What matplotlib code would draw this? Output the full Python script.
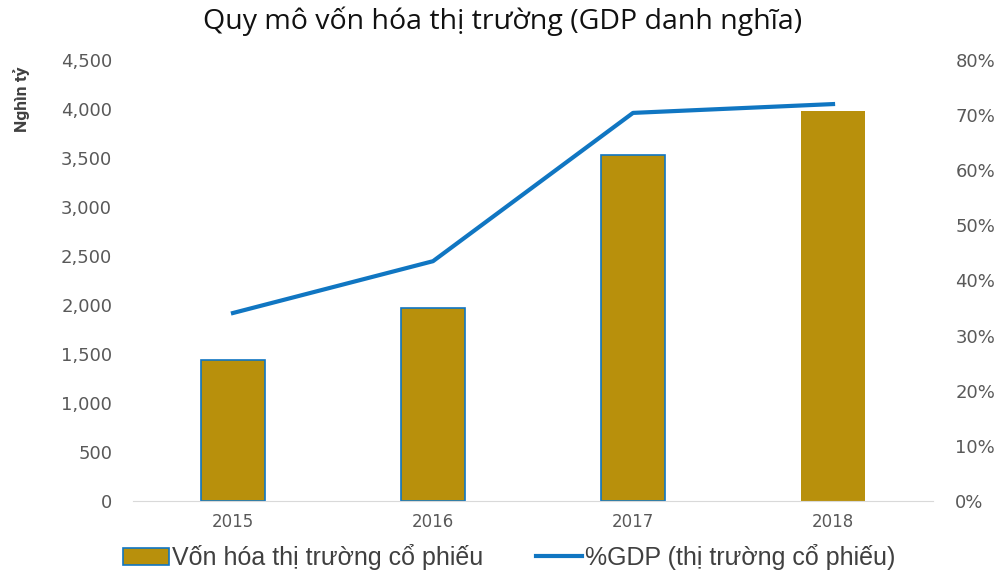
import numpy as np
import matplotlib.pyplot as plt

plt.rcParams['font.family'] = ['Open Sans', 'DejaVu Sans']

# data
years = ["2015", "2016", "2017", "2018"]
market_cap = [1439, 1969, 3531, 3980]          # nghin ty
pct_gdp = [34.1, 43.5, 70.4, 72.0]             # %GDP

bar_color = "#B8900C"
line_color = "#1076C2"
tick_color = "#595959"

fig = plt.figure(figsize=(10.05, 5.75), dpi=100)
ax = fig.add_axes([0.1323, 0.1287, 0.7961, 0.767])
x = np.arange(len(years))

edges = [line_color, line_color, line_color, "none"]
bars = ax.bar(x, market_cap, width=0.32, color=bar_color, edgecolor=edges,
              linewidth=1.2, label="Vốn hóa thị trường cổ phiếu", zorder=2)

ax.set_xlim(-0.5, 3.5)
ax.set_ylim(0, 4500)
ax.set_yticks(np.arange(0, 4501, 500))
ax.set_yticklabels([f"{v:,}" for v in range(0, 4501, 500)])
ax.set_xticks(x)
ax.set_xticklabels(years)
ax.tick_params(length=0, colors=tick_color)
ax.tick_params(axis="x", pad=9)
ax.tick_params(axis="y", pad=15)
for lab in ax.get_xticklabels():
    lab.set_family("DejaVu Sans")
    lab.set_fontsize(12)
for lab in ax.get_yticklabels():
    lab.set_family("DejaVu Sans")
    lab.set_fontsize(13)
for s in ["top", "right", "left"]:
    ax.spines[s].set_visible(False)
ax.spines["bottom"].set_color("#D9D9D9")

ax2 = ax.twinx()
ln, = ax2.plot(x, pct_gdp, color=line_color, linewidth=3,
               label="%GDP (thị trường cổ phiếu)", zorder=3)
ax2.set_ylim(0, 80)
ax2.set_yticks(np.arange(0, 81, 10))
ax2.set_yticklabels([f"{v}%" for v in range(0, 81, 10)])
ax2.tick_params(length=0, colors=tick_color, pad=16)
for lab in ax2.get_yticklabels():
    lab.set_family("DejaVu Sans")
    lab.set_fontsize(13)
for s in ax2.spines.values():
    s.set_visible(False)

fig.text(0.5, 0.963, "Quy mô vốn hóa thị trường (GDP danh nghĩa)",
         ha="center", va="center", fontsize=20.5, color="#111111")
fig.text(0.021, 0.828, "Nghìn tỷ", rotation=90, ha="center", va="center",
         fontsize=12.5, fontweight="bold", color="#404040",
         family=["Roboto", "DejaVu Sans"])

leg = fig.legend(handles=[bars, ln], loc="center", bbox_to_anchor=(0.507, 0.031),
                 ncol=2, frameon=False, handlelength=1.85,
                 columnspacing=2.1, handletextpad=0.12,
                 prop={"family": ["Liberation Sans", "DejaVu Sans"], "size": 18})
for t in leg.get_texts():
    t.set_color("#404040")

fig.savefig("out.png", dpi=100)
